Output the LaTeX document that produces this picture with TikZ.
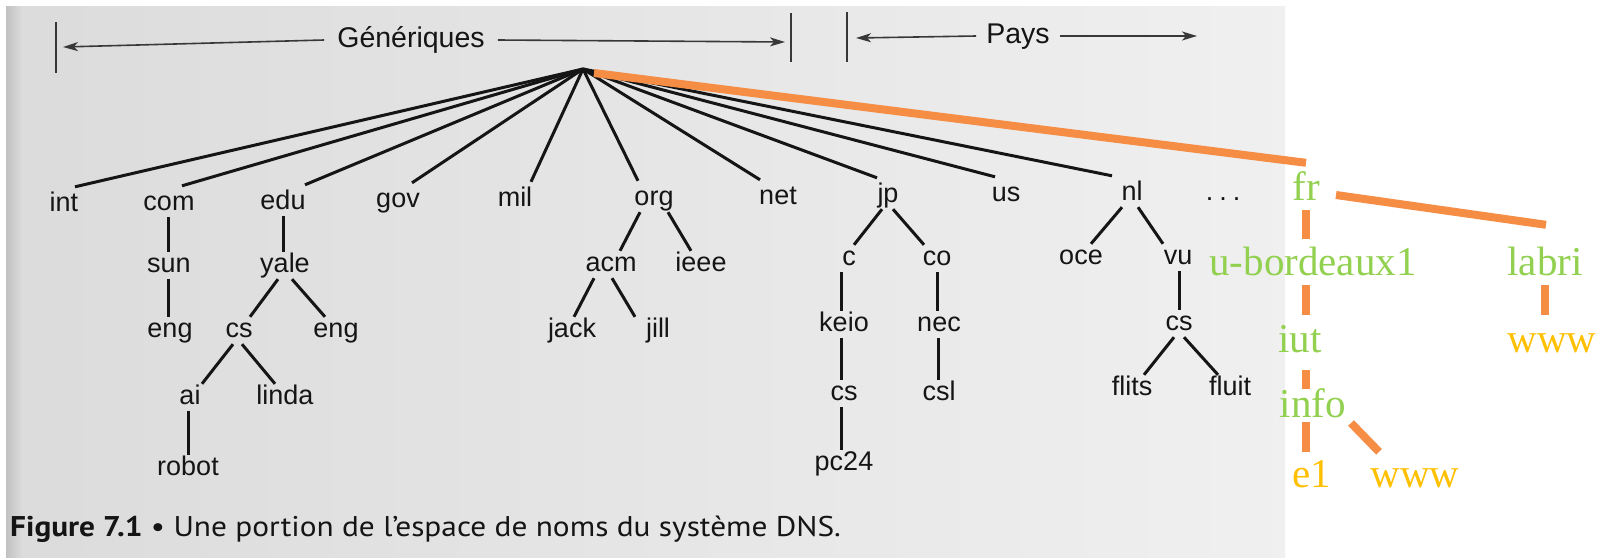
\documentclass[tikz,border=0pt]{standalone}
\usepackage{fontspec}
\usetikzlibrary{arrows.meta}
\newfontfamily\treefont{Liberation Sans}
\newfontfamily\capfont[FakeStretch=1.1]{PT Sans}
\newfontfamily\ovfont{Liberation Serif}
\definecolor{ovorange}{HTML}{F68D45}
\definecolor{ovgreen}{HTML}{92D050}
\definecolor{ovyellow}{HTML}{FFC000}
\definecolor{ink}{HTML}{151515}
\newcommand{\conn}[4]{\draw[treeline] ([xshift=#2pt,yshift=-7pt]#1.south) -- ([xshift=#4pt,yshift=6pt]#3.north);}
\begin{document}
\begin{tikzpicture}[x=1pt,y=-1pt,
  lbl/.style={font=\treefont\fontsize{27}{30}\selectfont, text=ink, inner sep=0pt, text height=14pt, text depth=0pt},
  biglbl/.style={lbl, font=\treefont\fontsize{28.5}{31}\selectfont},
  treeline/.style={line width=3pt, ink},
  bar/.style={line width=1.5pt, ink!85},
  arr/.style={line width=1.6pt, ink!85, -{Stealth[length=15pt,width=9pt,inset=4pt]}},
  ov/.style={font=\ovfont\fontsize{41}{45}\selectfont, inner sep=0pt, text height=28pt, text depth=9pt, anchor=base},
  ovline/.style={line width=8pt, ovorange},
  ovdash/.style={line width=7.5pt, ovorange}]
\useasboundingbox (0,0) rectangle (1608,557);
\fill[white] (0,0) rectangle (1608,557);
\shade[left color=black!14, right color=black!6] (6,6) rectangle (1285,557);
\shade[left color=black!24, right color=black!14] (6,6) rectangle (22,557);

% top scale
\coordinate (gb1) at (56,22); \coordinate (gb2) at (56,73);
\coordinate (gb3) at (791,13); \coordinate (gb4) at (791,62);
\coordinate (pb1) at (847,12); \coordinate (pb2) at (847,62);
\coordinate (gtl) at (63,47); \coordinate (gtr) at (785,42);
\coordinate (ptl) at (856,38); \coordinate (ptr) at (1197,36);
\draw[bar] (gb1) -- (gb2);
\draw[bar] (gb3) -- (gb4);
\draw[bar] (pb1) -- (pb2);
\node[biglbl, inner xsep=13pt] (gen) at (411,40) {Génériques};
\node[biglbl, inner xsep=10pt] (pays) at (1018,36) {Pays};
\draw[arr] (gen.west) -- (gtl);
\draw[arr] (gen.east) -- (gtr);
\draw[arr] (pays.west) -- (ptl);
\draw[arr] (pays.east) -- (ptr);

% tree
\coordinate (root) at (583,69);
\node[lbl] (int) at (64,204) {int};
\node[lbl] (com) at (169,203) {com};
\node[lbl] (edu) at (283,202) {edu};
\node[lbl] (gov) at (398,200) {gov};
\node[lbl] (mil) at (515,199) {mil};
\node[lbl] (org) at (654,198) {org};
\node[lbl] (net) at (778,197) {net};
\node[lbl] (jp) at (888,195) {jp};
\node[lbl] (us) at (1006,194) {us};
\node[lbl] (nl) at (1132,193) {nl};
\node[lbl] (dots) at (1223,193) {.\hspace{6pt}.\hspace{6pt}.};

\node[lbl] (sun) at (169,265) {sun};
\node[lbl] (yale) at (285,265) {yale};
\node[lbl] (acm) at (611,264) {acm};
\node[lbl] (ieee) at (701,264) {ieee};
\node[lbl] (nc) at (849,258) {c};
\node[lbl] (co) at (937,258) {co};
\node[lbl] (oce) at (1081,257) {oce};
\node[lbl] (vu) at (1178,257) {vu};

\node[lbl] (engA) at (170,330) {eng};
\node[lbl] (csA) at (239,330) {cs};
\node[lbl] (engB) at (336,330) {eng};
\node[lbl] (jack) at (572,330) {jack};
\node[lbl] (jill) at (658,330) {jill};
\node[lbl] (keio) at (844,324) {keio};
\node[lbl] (nec) at (939,324) {nec};
\node[lbl] (csC) at (1179,323) {cs};

\node[lbl] (ai) at (190,397) {ai};
\node[lbl] (linda) at (285,397) {linda};
\node[lbl] (csB) at (844,393) {cs};
\node[lbl] (csl) at (939,393) {csl};
\node[lbl] (flits) at (1132,388) {flits};
\node[lbl] (fluit) at (1230,388) {fluit};

\node[lbl] (robot) at (188,468) {robot};
\node[lbl] (pc) at (844,463) {pc24};

\foreach \n/\d in {int/11,com/13,edu/22,gov/14,mil/16,org/-16,net/-18,jp/-11,us/-11,nl/-20}
  \draw[treeline] (root) -- ([xshift=\d pt,yshift=10pt]\n.north);

\conn{com}{-1}{sun}{-1}
\conn{edu}{0}{yale}{-2}
\conn{sun}{-1}{engA}{-2}
\conn{yale}{-7}{csA}{11}
\conn{yale}{7}{engB}{-11}
\conn{csA}{-6}{ai}{12}
\conn{csA}{3}{linda}{-10}
\conn{ai}{-2}{robot}{0}
\conn{org}{-14}{acm}{9}
\conn{org}{14}{ieee}{-10}
\conn{acm}{-17}{jack}{2}
\conn{acm}{1}{jill}{-23}
\conn{jp}{-6}{nc}{5}
\conn{jp}{5}{co}{-13}
\conn{nc}{-8}{keio}{-3}
\conn{keio}{-3}{csB}{-3}
\conn{csB}{-3}{pc}{-3}
\conn{co}{0}{nec}{-2}
\conn{nec}{-1}{csl}{-1}
\conn{nl}{-10}{oce}{10}
\conn{nl}{6}{vu}{-15}
\conn{vu}{1}{csC}{0}
\conn{csC}{-5}{flits}{12}
\conn{csC}{5}{fluit}{-12}

% caption
\node[anchor=base west, inner sep=0pt, text=ink, font=\capfont\fontsize{28.5}{31}\selectfont] (cap) at (10,536)
  {\textbf{Figure 7.1} • Une portion de l’espace de noms du système DNS.};

% overlay
\node[ov, text=ovgreen] (fr) at (1306,200) {fr};
\node[ov, text=ovgreen] (ubx) at (1313,275) {u-bordeaux1};
\node[ov, text=ovgreen] (labri) at (1545,275) {labri};
\node[ov, text=ovgreen] (iut) at (1300,352) {iut};
\node[ov, text=ovgreen] (info) at (1313,417) {info};
\node[ov, text=ovyellow] (eone) at (1312,487) {e1};
\node[ov, text=ovyellow] (wwwA) at (1415,487) {www};
\node[ov, text=ovyellow] (wwwB) at (1552,352) {www};

\draw[ovline] ([xshift=11pt,yshift=-4pt]root) -- ([yshift=9pt]fr.north);
\draw[ovline] ([xshift=30pt,yshift=5pt]fr.base) -- ([xshift=1pt,yshift=22pt]labri.north);
\draw[ovdash, shorten <=1pt, shorten >=8pt] (fr.south) -- (fr.south |- ubx.north);
\draw[ovdash, shorten <=1pt, shorten >=9pt] (fr.south |- ubx.south) -- (fr.south |- iut.north);
\draw[ovdash, shorten <=1pt, shorten >=9pt] (labri.south) -- (labri.south |- wwwB.north);
\draw[ovdash, shorten <=9pt] (fr.south |- iut.south) -- (fr.south |- info.north);
\draw[ovdash, shorten <=-4pt, shorten >=7pt] (fr.south |- info.south) -- (fr.south |- eone.north);
\draw[ovline] ([xshift=38pt,yshift=-6pt]info.base) -- ([xshift=-36pt,yshift=7pt]wwwA.north);
\end{tikzpicture}
\end{document}
